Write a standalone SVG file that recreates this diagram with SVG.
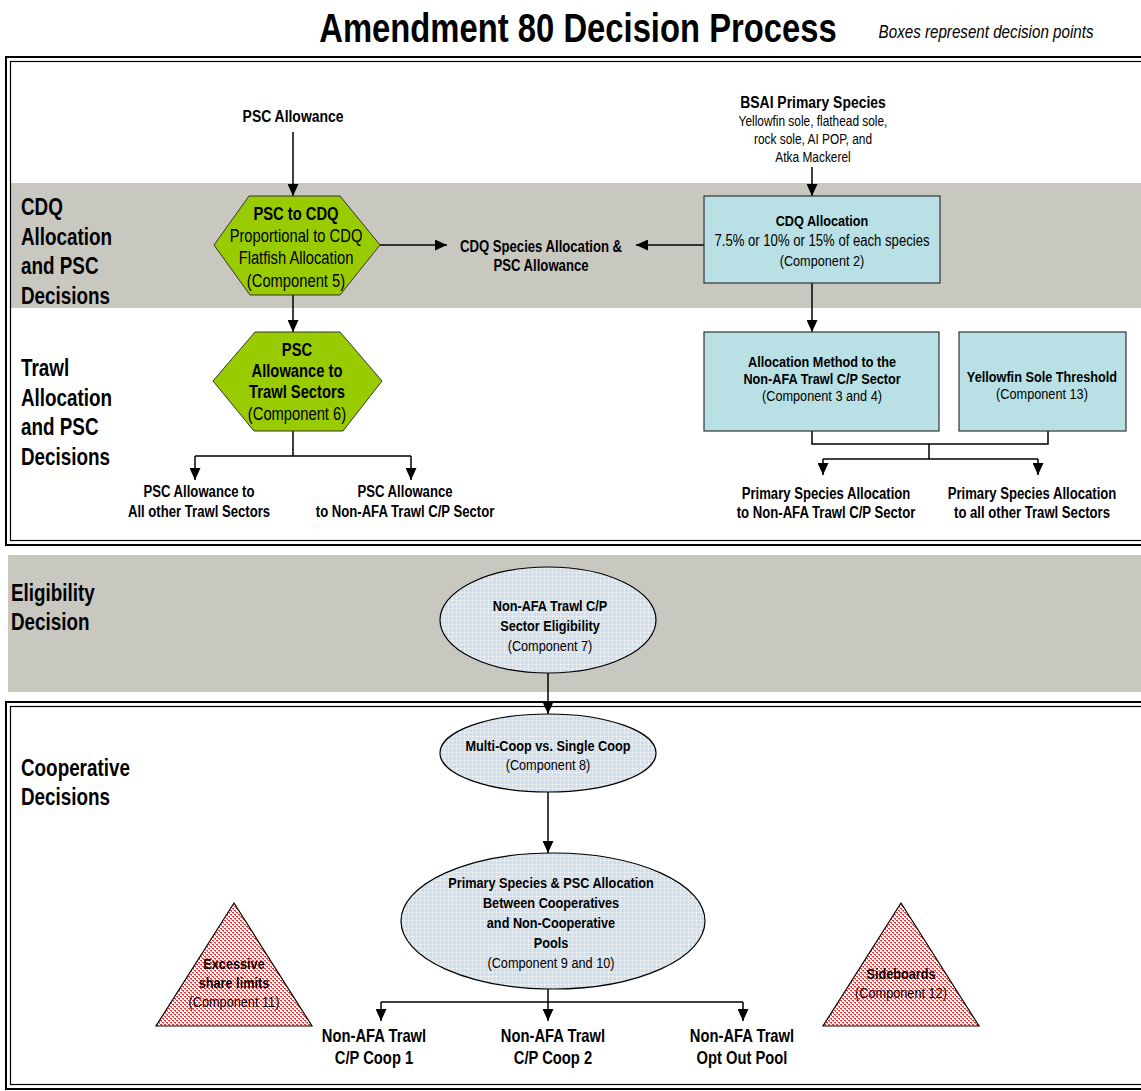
<svg xmlns="http://www.w3.org/2000/svg" width="1141" height="1091" viewBox="0 0 1141 1091">
<style>
text{font-family:"Liberation Sans",Arial,sans-serif;fill:#000;transform-box:fill-box;transform-origin:0% 50%;transform:scaleX(0.82)}
.b{font-weight:bold}
.c{text-anchor:middle;transform-origin:50% 50%}
.h{font-size:23px;font-weight:bold}
.hx{font-size:18px}
.bx{font-size:15.5px}
.lb{font-size:16px;font-weight:bold}
.ln{stroke:#000;stroke-width:1.5;fill:none}
.ar{stroke:#000;stroke-width:1.5;fill:none;marker-end:url(#ah)}
.band{fill:#C8C8C0}
.hex{fill:#99CC00;stroke:#333;stroke-width:1}
.box{fill:#B9E0E4;stroke:#333;stroke-width:1.2}
.ell{fill:url(#dots);stroke:#000;stroke-width:1.2}
.tri{fill:url(#red);stroke:#000;stroke-width:1.2}
.fo{fill:none;stroke:#000}
</style>
<defs>
<marker id="ah" markerUnits="userSpaceOnUse" markerWidth="12" markerHeight="11" refX="12" refY="5.5" orient="auto">
<path d="M0,0 L12,5.5 L0,11 z" fill="#000"/>
</marker>
<pattern id="dots" width="4" height="4" patternUnits="userSpaceOnUse">
<rect width="4" height="4" fill="#D0E1F0"/>
<rect x="0" y="0" width="1" height="1" fill="#FFFFFF"/>
<rect x="2" y="0" width="1" height="1" fill="#F2F7FC"/>
<rect x="0" y="2" width="1" height="1" fill="#F2F7FC"/>
<rect x="2" y="2" width="1" height="1" fill="#B8CFE6"/>
</pattern>
<pattern id="red" width="4" height="4" patternUnits="userSpaceOnUse">
<rect width="4" height="4" fill="#FFFFFF"/>
<rect x="0" y="0" width="2" height="1" fill="#EE3333"/>
<rect x="1" y="1" width="1" height="1" fill="#F06060"/>
<rect x="2" y="2" width="2" height="1" fill="#EE3333"/>
<rect x="3" y="3" width="1" height="1" fill="#F06060"/>
</pattern>
</defs>
<rect width="1141" height="1091" fill="#FFFFFF"/>

<!-- title -->
<text x="578" y="42" class="b c" style="font-size:40px">Amendment 80 Decision Process</text>
<text x="986" y="38" class="c" style="font-size:18.5px;font-style:italic">Boxes represent decision points</text>

<!-- frames and bands -->
<rect class="band" x="10" y="183" width="1135" height="125"/>
<rect class="band" x="8" y="555" width="1137" height="137"/>
<rect class="fo" x="6" y="57" width="1145" height="488" stroke-width="2"/>
<rect class="fo" x="10.5" y="61.5" width="1140" height="479" stroke-width="1.2"/>
<rect class="fo" x="6" y="702" width="1145" height="387" stroke-width="2"/>
<rect class="fo" x="10.5" y="706.5" width="1140" height="378" stroke-width="1.2"/>

<!-- section headings -->
<g id="sec-cdq">
<text x="21" y="215" class="h">CDQ</text>
<text x="21" y="245" class="h">Allocation</text>
<text x="21" y="274" class="h">and PSC</text>
<text x="21" y="304" class="h">Decisions</text>
</g>
<g id="sec-trawl">
<text x="21" y="376" class="h">Trawl</text>
<text x="21" y="406" class="h">Allocation</text>
<text x="21" y="435" class="h">and PSC</text>
<text x="21" y="465" class="h">Decisions</text>
</g>
<g id="sec-elig">
<text x="11" y="601" class="h">Eligibility</text>
<text x="11" y="630" class="h">Decision</text>
</g>
<g id="sec-coop">
<text x="21" y="776" class="h">Cooperative</text>
<text x="21" y="805" class="h">Decisions</text>
</g>

<!-- connectors -->
<g id="connectors">
<path class="ar" d="M293,132 V196"/>
<path class="ar" d="M293,295 V332"/>
<path class="ar" d="M380,245 H447"/>
<path class="ar" d="M704,245 H636"/>
<path class="ar" d="M812,167 V196"/>
<path class="ar" d="M812,283 V332"/>
<path class="ln" d="M293,431 V456 M195,456 H411"/>
<path class="ar" d="M195,456 V480"/>
<path class="ar" d="M411,456 V480"/>
<path class="ln" d="M812,431 V444 H1048 V431 M929,444 V459 M823,459 H1038"/>
<path class="ar" d="M823,459 V475"/>
<path class="ar" d="M1038,459 V475"/>
<path class="ar" d="M548,673 V714"/>
<path class="ar" d="M548,792 V853"/>
<path class="ln" d="M548,989 V1002 M381,1002 H743"/>
<path class="ar" d="M548,1002 V1021"/>
<path class="ar" d="M381,1002 V1021"/>
<path class="ar" d="M743,1002 V1021"/>
</g>

<!-- nodes -->
<g id="psc-allowance">
<text x="293" y="122" class="c b" style="font-size:17px">PSC Allowance</text>
</g>
<g id="bsai">
<text x="813" y="108" class="c b" style="font-size:17px">BSAI Primary Species</text>
<text x="813" y="126" class="c" style="font-size:14.5px">Yellowfin sole, flathead sole,</text>
<text x="813" y="144" class="c" style="font-size:14.5px">rock sole, AI POP, and</text>
<text x="813" y="162" class="c" style="font-size:14.5px">Atka Mackerel</text>
</g>
<g id="psc-to-cdq">
<polygon class="hex" points="214,245 249,196 340,196 380,245 340,295 250,295"/>
<text x="296" y="220" class="hx b c">PSC to CDQ</text>
<text x="296" y="242" class="hx c">Proportional to CDQ</text>
<text x="296" y="264" class="hx c">Flatfish Allocation</text>
<text x="296" y="287" class="hx c">(Component 5)</text>
</g>
<g id="cdq-species">
<text x="541" y="252" class="lb c">CDQ Species Allocation &amp;</text>
<text x="541" y="271" class="lb c">PSC Allowance</text>
</g>
<g id="cdq-allocation">
<rect class="box" x="704" y="196" width="236" height="87"/>
<text x="822" y="226" class="bx b c">CDQ Allocation</text>
<text x="822" y="246" class="c" style="font-size:16px">7.5% or 10% or 15% of each species</text>
<text x="822" y="266" class="bx c">(Component 2)</text>
</g>
<g id="psc-trawl">
<polygon class="hex" points="213,381 255,332 340,332 382,381 343,431 254,431"/>
<text x="297" y="356" class="hx b c">PSC</text>
<text x="297" y="377" class="hx b c">Allowance to</text>
<text x="297" y="398" class="hx b c">Trawl Sectors</text>
<text x="297" y="420" class="hx c">(Component 6)</text>
</g>
<g id="psc-other">
<text x="199" y="497" class="lb c">PSC Allowance to</text>
<text x="199" y="517" class="lb c">All other Trawl Sectors</text>
</g>
<g id="psc-nonafa">
<text x="405" y="497" class="lb c">PSC Allowance</text>
<text x="405" y="517" class="lb c">to Non-AFA Trawl C/P Sector</text>
</g>
<g id="alloc-method">
<rect class="box" x="704" y="332" width="235" height="99"/>
<text x="822" y="367" class="bx b c">Allocation Method to the</text>
<text x="822" y="384" class="bx b c">Non-AFA Trawl C/P Sector</text>
<text x="822" y="401" class="bx c">(Component 3 and 4)</text>
</g>
<g id="yellowfin">
<rect class="box" x="959" y="332" width="167" height="99"/>
<text x="1042" y="382" class="bx b c">Yellowfin Sole Threshold</text>
<text x="1042" y="399" class="bx c">(Component 13)</text>
</g>
<g id="ps-nonafa">
<text x="826" y="499" class="lb c">Primary Species Allocation</text>
<text x="826" y="518" class="lb c">to Non-AFA Trawl C/P Sector</text>
</g>
<g id="ps-other">
<text x="1032" y="499" class="lb c">Primary Species Allocation</text>
<text x="1032" y="518" class="lb c">to all other Trawl Sectors</text>
</g>
<g id="eligibility">
<ellipse class="ell" cx="548" cy="620" rx="108" ry="53"/>
<text x="550" y="611" class="bx b c">Non-AFA Trawl C/P</text>
<text x="550" y="631" class="bx b c">Sector Eligibility</text>
<text x="550" y="651" class="bx c">(Component 7)</text>
</g>
<g id="multi-coop">
<ellipse class="ell" cx="548" cy="753" rx="108" ry="39"/>
<text x="548" y="751" class="bx b c">Multi-Coop vs. Single Coop</text>
<text x="548" y="770" class="bx c">(Component 8)</text>
</g>
<g id="ps-psc-alloc">
<ellipse class="ell" cx="553" cy="921" rx="152" ry="68"/>
<text x="551" y="888" class="bx b c">Primary Species &amp; PSC Allocation</text>
<text x="551" y="908" class="bx b c">Between Cooperatives</text>
<text x="551" y="928" class="bx b c">and Non-Cooperative</text>
<text x="551" y="948" class="bx b c">Pools</text>
<text x="551" y="968" class="bx c">(Component 9 and 10)</text>
</g>
<g id="coop1">
<text x="374" y="1042" class="c b" style="font-size:18px">Non-AFA Trawl</text>
<text x="374" y="1064" class="c b" style="font-size:18px">C/P Coop 1</text>
</g>
<g id="coop2">
<text x="553" y="1042" class="c b" style="font-size:18px">Non-AFA Trawl</text>
<text x="553" y="1064" class="c b" style="font-size:18px">C/P Coop 2</text>
</g>
<g id="optout">
<text x="742" y="1042" class="c b" style="font-size:18px">Non-AFA Trawl</text>
<text x="742" y="1064" class="c b" style="font-size:18px">Opt Out Pool</text>
</g>
<g id="excessive">
<polygon class="tri" points="234,903 156,1026 312,1026"/>
<text x="234" y="969" class="bx b c">Excessive</text>
<text x="234" y="988" class="bx b c">share limits</text>
<text x="234" y="1007" class="bx c">(Component 11)</text>
</g>
<g id="sideboards">
<polygon class="tri" points="901,903 823,1026 979,1026"/>
<text x="901" y="979" class="bx b c">Sideboards</text>
<text x="901" y="998" class="bx c">(Component 12)</text>
</g>
</svg>
